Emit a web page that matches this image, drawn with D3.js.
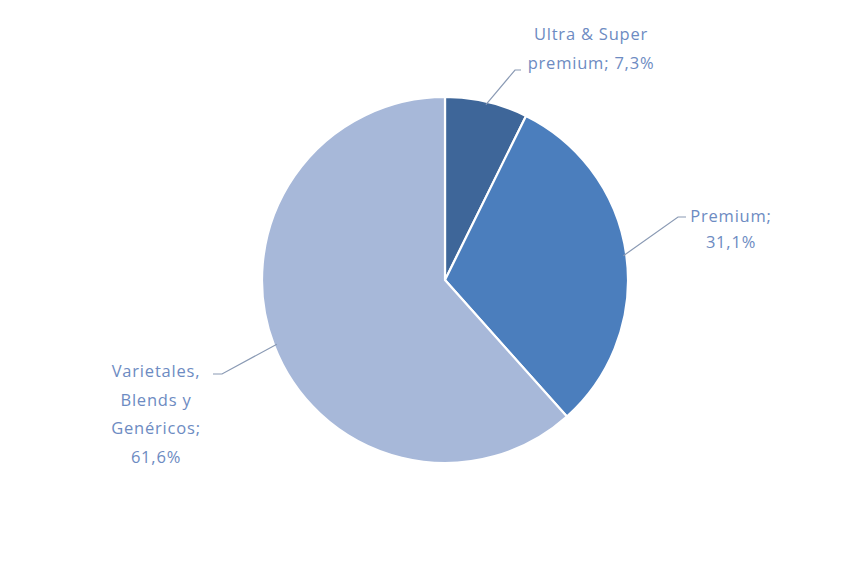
<!DOCTYPE html>
<html>
<head>
<meta charset="utf-8">
<script src="https://cdn.jsdelivr.net/npm/d3@7"></script>
<style>
  html, body { margin: 0; padding: 0; background: #ffffff; }
  svg text { font-family: "Open Sans", Lato, sans-serif; }
</style>
</head>
<body>
<script>
// Wine market share by segment
const categories = ["Ultra & Super premium", "Premium", "Varietales, Blends y Genéricos"];
const shares = [7.3, 31.1, 61.6];
const labelLines = [
  ["Ultra & Super", "premium; 7,3%"],
  ["Premium;", "31,1%"],
  ["Varietales,", "Blends y", "Genéricos;", "61,6%"]
];
const colors = ["#3e6699", "#4b7ebd", "#a7b8d9"];

const W = 862, H = 573;
const cx = 445, cy = 280, R = 183;

// Label placement: text anchor point, first baseline, line step, leader elbow and end
const labelLayout = [
  { x: 591, y: 40, step: 28.5, elbow: [515, 70], end: [521, 70] },
  { x: 731, y: 222, step: 25.5, elbow: [678, 217], end: [686, 217] },
  { x: 156, y: 377, step: 28.5, elbow: [222, 374], end: [213, 374] }
];

const svg = d3.select("body").append("svg")
  .attr("width", W).attr("height", H);

const pie = d3.pie().sort(null).value(d => d)(shares);
const arc = d3.arc().innerRadius(0).outerRadius(R);

const g = svg.append("g").attr("transform", `translate(${cx},${cy})`);

g.selectAll("path.slice")
  .data(pie)
  .join("path")
  .attr("class", "slice")
  .attr("d", arc)
  .attr("fill", (d, i) => colors[i])
  .attr("stroke", "#ffffff")
  .attr("stroke-width", 2.2)
  .attr("stroke-linejoin", "round");

// Leader lines from each slice edge to its label
pie.forEach((d, i) => {
  const L = labelLayout[i];
  const a = (d.startAngle + d.endAngle) / 2;
  const p0 = [cx + (R - 3) * Math.sin(a), cy - (R - 3) * Math.cos(a)];
  svg.append("polyline")
    .attr("points", [p0, L.elbow, L.end].map(p => p.join(",")).join(" "))
    .attr("fill", "none")
    .attr("stroke", "#8a9ab4")
    .attr("stroke-width", 1.2);
});

// Category labels
labelLines.forEach((lines, i) => {
  const L = labelLayout[i];
  const t = svg.append("text")
    .attr("text-anchor", "middle")
    .attr("fill", "#6d8bc2")
    .attr("font-size", 16.5)
    .attr("letter-spacing", 0.8);
  lines.forEach((s, j) => {
    t.append("tspan").attr("x", L.x).attr("y", L.y + j * L.step).text(s);
  });
});
</script>
</body>
</html>
